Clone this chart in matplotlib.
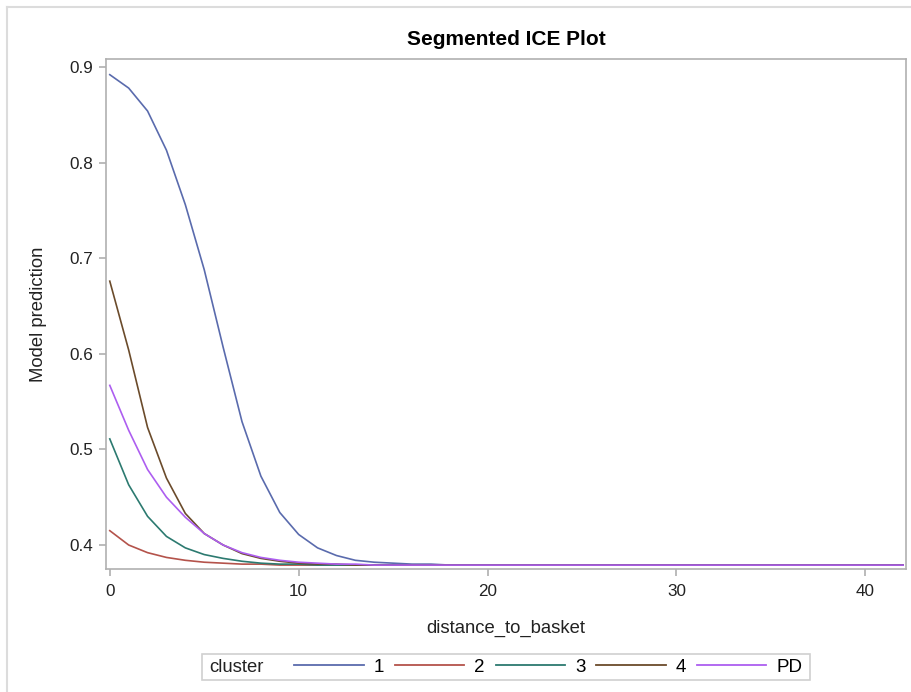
import numpy as np
import matplotlib
matplotlib.use("Agg")
import matplotlib.pyplot as plt
from matplotlib.lines import Line2D
from matplotlib.patches import Rectangle

plt.rcParams['font.family'] = ['Liberation Sans', 'DejaVu Sans']

# distance_to_basket grid (0 .. 42)
distance = np.arange(0, 43)

cluster_1 = [0.892, 0.878, 0.854, 0.813, 0.756, 0.688, 0.607, 0.529, 0.472, 0.434,
             0.411, 0.397, 0.389, 0.384, 0.382, 0.381, 0.380, 0.380, 0.379, 0.379,
             0.379, 0.379, 0.379, 0.379, 0.379, 0.379, 0.379, 0.379, 0.379, 0.379,
             0.379, 0.379, 0.379, 0.379, 0.379, 0.379, 0.379, 0.379, 0.379, 0.379,
             0.379, 0.379, 0.379]
cluster_2 = [0.415, 0.400, 0.392, 0.387, 0.384, 0.382, 0.381, 0.380, 0.380, 0.379,
             0.379, 0.379, 0.379, 0.379, 0.379, 0.379, 0.379, 0.379, 0.379, 0.379,
             0.379, 0.379, 0.379, 0.379, 0.379, 0.379, 0.379, 0.379, 0.379, 0.379,
             0.379, 0.379, 0.379, 0.379, 0.379, 0.379, 0.379, 0.379, 0.379, 0.379,
             0.379, 0.379, 0.379]
cluster_3 = [0.511, 0.463, 0.430, 0.409, 0.397, 0.390, 0.386, 0.383, 0.381, 0.380,
             0.380, 0.379, 0.379, 0.379, 0.379, 0.379, 0.379, 0.379, 0.379, 0.379,
             0.379, 0.379, 0.379, 0.379, 0.379, 0.379, 0.379, 0.379, 0.379, 0.379,
             0.379, 0.379, 0.379, 0.379, 0.379, 0.379, 0.379, 0.379, 0.379, 0.379,
             0.379, 0.379, 0.379]
cluster_4 = [0.676, 0.604, 0.523, 0.470, 0.433, 0.412, 0.400, 0.391, 0.386, 0.383,
             0.381, 0.380, 0.380, 0.379, 0.379, 0.379, 0.379, 0.379, 0.379, 0.379,
             0.379, 0.379, 0.379, 0.379, 0.379, 0.379, 0.379, 0.379, 0.379, 0.379,
             0.379, 0.379, 0.379, 0.379, 0.379, 0.379, 0.379, 0.379, 0.379, 0.379,
             0.379, 0.379, 0.379]
pd_curve = [0.567, 0.520, 0.479, 0.450, 0.429, 0.412, 0.400, 0.392, 0.387, 0.384,
            0.382, 0.381, 0.380, 0.380, 0.379, 0.379, 0.379, 0.379, 0.379, 0.379,
            0.379, 0.379, 0.379, 0.379, 0.379, 0.379, 0.379, 0.379, 0.379, 0.379,
            0.379, 0.379, 0.379, 0.379, 0.379, 0.379, 0.379, 0.379, 0.379, 0.379,
            0.379, 0.379, 0.379]

labels = ['1', '2', '3', '4', 'PD']
series = [cluster_1, cluster_2, cluster_3, cluster_4, pd_curve]
colors = ['#5a6bad', '#b4534b', '#2c7a70', '#6b4b2b', '#ad5ef0']

fig = plt.figure(figsize=(9.12, 6.92), dpi=100)
ax = fig.add_axes([106 / 912, 1 - 569 / 692, (906 - 106) / 912, (569 - 59) / 692])

for ys, c, lab in zip(series, colors, labels):
    ax.plot(distance, ys, color=c, lw=1.2, label=lab)

ax.set_xlim(-0.2, 42.15)
ax.set_ylim(0.3749, 0.9084)
ax.set_xticks([0, 10, 20, 30, 40])
ax.set_yticks([0.4, 0.5, 0.6, 0.7, 0.8, 0.9])
ax.set_yticklabels(['0.4', '0.5', '0.6', '0.7', '0.8', '0.9'])

for s in ax.spines.values():
    s.set_color('#b0b0b0')
    s.set_linewidth(1.2)
ax.tick_params(colors='#a8a8a8', labelcolor='#222222', labelsize=12.3,
               length=5, width=1.1)
ax.tick_params(axis='x', pad=6)
ax.tick_params(axis='y', pad=4)

ax.set_title('Segmented ICE Plot', fontsize=15, fontweight='bold', pad=10)
ax.set_xlabel('distance_to_basket', fontsize=13.3, color='#222222', labelpad=15)
ax.set_ylabel('Model prediction', fontsize=13.3, color='#222222', labelpad=16)

# legend: "cluster" title on the left, entries in one row, framed
handles = [Line2D([], [], color=c, lw=1.3) for c in colors]
fig.legend(handles, labels, loc='center left',
           bbox_to_anchor=(285 / 912, 1 - 667 / 692), ncol=5, frameon=False,
           fontsize=13.5, borderpad=0, handlelength=3.7, handletextpad=0.53,
           columnspacing=0.58)
fig.text(209 / 912, 1 - 667 / 692, 'cluster', fontsize=13.3, color='#222222',
         ha='left', va='center')
fig.add_artist(Rectangle((202 / 912, 1 - 680 / 692), (810 - 202) / 912, 26 / 692,
                         transform=fig.transFigure, fill=False,
                         edgecolor='#d0d0d0', lw=1.2))

# outer frame lines (top and left)
fig.add_artist(Line2D([7 / 912, 1], [1 - 7 / 692, 1 - 7 / 692],
                      transform=fig.transFigure, color='#dcdcdc', lw=1.5))
fig.add_artist(Line2D([7 / 912, 7 / 912], [0, 1 - 7 / 692],
                      transform=fig.transFigure, color='#dcdcdc', lw=1.5))

fig.savefig('out.png', dpi=100)
